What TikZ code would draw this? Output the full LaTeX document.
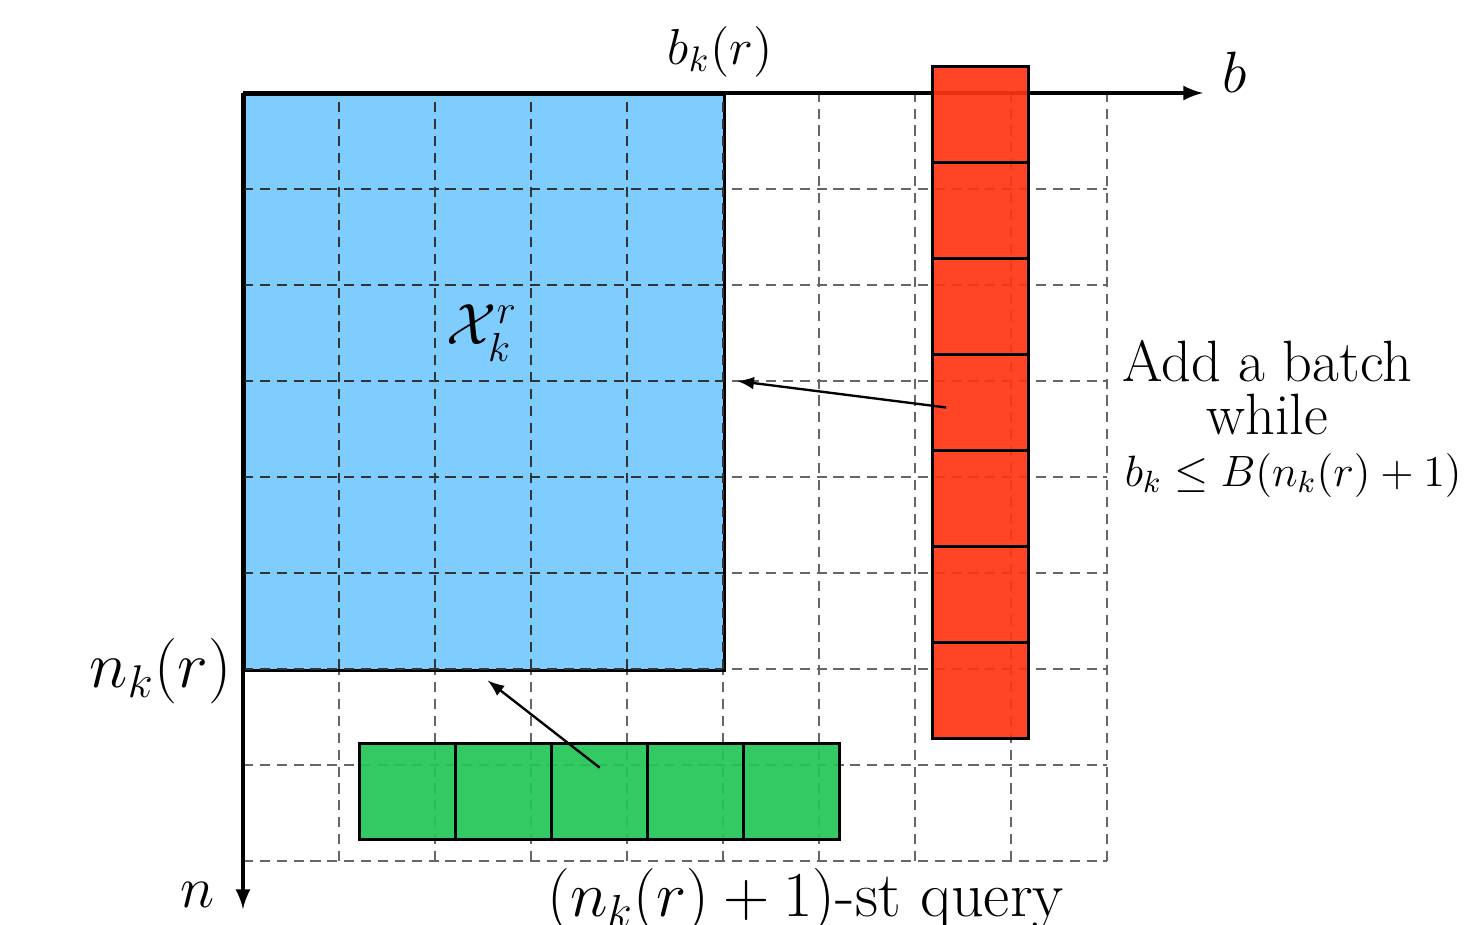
\RequirePackage{fix-cm}
\documentclass[tikz,border=0pt]{standalone}
\usepackage{amsmath}
\usetikzlibrary{positioning}
\definecolor{blockblue}{HTML}{7FCCFF}
\definecolor{batchred}{HTML}{FF3514}
\definecolor{querygreen}{HTML}{22C656}
\tikzset{
  cellgrid/.style={densely dashed, black!60, line width=0.4pt},
  cellbox/.style={draw, line width=1pt, minimum width=1cm, minimum height=1cm, inner sep=0pt, fill opacity=0.92, text opacity=1},
  axisline/.style={line width=1pt, -latex},
  pointer/.style={line width=0.7pt, -latex}
}
\begin{document}
\begin{tikzpicture}
\useasboundingbox (-2.531,0.969) rectangle (12.75,-8.656);
          % grid of (n,b) pairs
          \draw[cellgrid] (0,0) grid (9,-8);
          % already sampled block
          \node[cellbox, fill=blockblue, fill opacity=1, minimum width=5cm, minimum height=6cm, anchor=north west] (blk) at (0,0) {};
          \draw[cellgrid, black!80] (0,0) grid (5,-6);
          \node[font=\LARGE] (xlab) at (2.49,-2.5) {$\mathcal{X}_k^r$};
        %
        % Axes:
        \coordinate (origin) at (0,0);
        \coordinate (bend) at (10,0);
        \coordinate (nend) at (0,-8.5);
        \draw[axisline] (origin) -- (bend);
        \draw[axisline] (origin) -- (nend);
        \node[font=\LARGE] (blab) at (10.33,0.22) {$b$};
        \node[font=\LARGE] (nlab) at (-0.47,-8.35) {$n$};
        \node[font=\fontsize{15}{18}\selectfont] (bklab) at (4.97,0.43) {$b_k(r)$};
        \node[font=\fontsize{19.4}{23}\selectfont] (nklab) at (-0.86,-6.02) {$n_k(r)$};
        %
        % New batch column and new query row:
        \foreach \i in {1,...,7}
          \node[cellbox, fill=batchred, anchor=north west] (add\i) at (7.167,1.292-\i) {};
        \foreach \j in {1,...,5}
          \node[cellbox, fill=querygreen, anchor=north west] (qry\j) at (0.198+\j,-6.76) {};
        %
        % Pointers:
        \coordinate (addtip) at (5.15,-3.0);
        \coordinate (qrytip) at (2.55,-6.12);
        \draw[pointer] ([xshift=-3.6mm,yshift=-0.5mm]add4.center) -- (addtip);
        \draw[pointer] ([yshift=2.5mm]qry3.center) -- (qrytip);
        %
        % Captions:
        \node[font=\fontsize{17.28}{15.5}\selectfont, align=center] (addtxt) at (10.67,-3.07) {Add a batch\\while};
        \node[font=\fontsize{13}{16}\selectfont] (addcond) at (10.94,-3.98) {$b_k \leq B(n_k(r)+1)$};
        \node[font=\fontsize{19}{23}\selectfont, anchor=base] (qrytxt) at (5.86,-8.58) {$(n_k(r)+1)$-st query};
            \end{tikzpicture}
\end{document}
